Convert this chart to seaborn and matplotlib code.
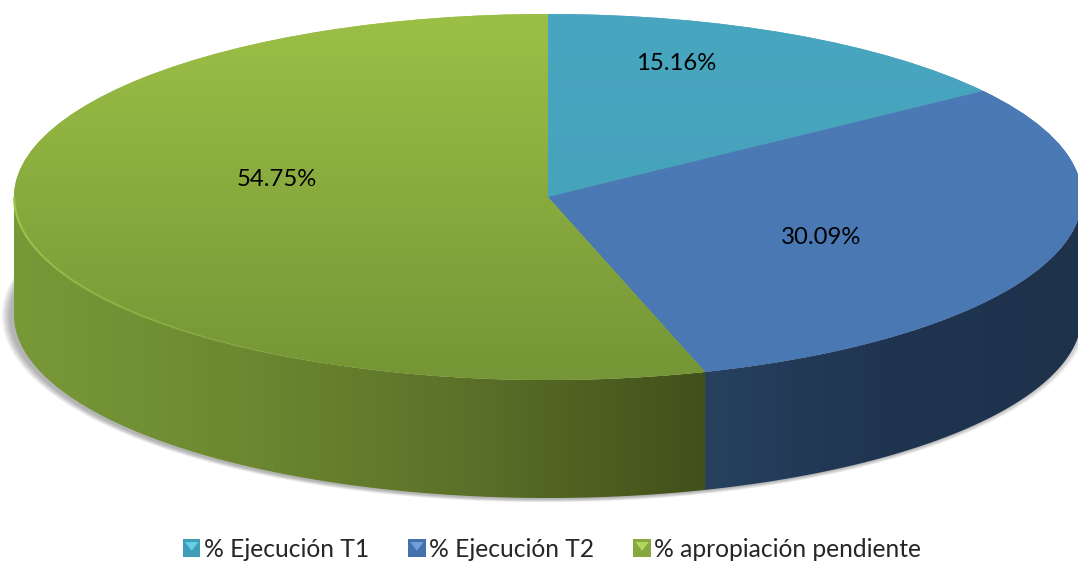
import numpy as np
import matplotlib
matplotlib.use("Agg")
import matplotlib.pyplot as plt
from matplotlib.legend_handler import HandlerBase
from matplotlib.patches import Ellipse, Patch, Polygon, Rectangle
import seaborn as sns

categories = ["% Ejecución T1", "% Ejecución T2", "% apropiación pendiente"]
shares = [15.16, 30.09, 54.75]

W, H, CX, CY, A, B, DEPTH = 1078, 561, 548, 197, 534, 183, 118
top_colors = [("#49A6C0", "#44A0B8"), ("#4A7AB6", "#4A78B2"), ("#9CC046", "#759536")]
wall_colors = {1: ["#27415F", "#1F344F", "#1E324C"], 2: ["#789938", "#6C8830", "#5A7029", "#42501A"]}
legend_colors = ["#3F9DB8", "#4272AE", "#86A83E"]
legend_light = ["#63CFE8", "#6FA0DC", "#B2D75E"]
label_pos = [(676, 63), (821, 238), (277, 179)]

sns.set_theme(style="white")
plt.rcParams["font.family"] = ["Lato", "DejaVu Sans"]

fig = plt.figure(figsize=(W / 100, H / 100), dpi=100)
ax = fig.add_axes([0, 0, 1, 1])
xlim = ((0 - CX) / A, (W - CX) / A)
ylim = ((CY - H) / B, CY / B)
d = DEPTH / B


def gradient(colors, horizontal, extent, clip, z):
    cmap = sns.blend_palette(colors, as_cmap=True)
    g = np.linspace(0, 1, 256)
    g = g[None, :] if horizontal else g[:, None]
    im = ax.imshow(g, cmap=cmap, extent=extent, origin="upper", aspect="auto", zorder=z,
                   interpolation="bilinear")
    im.set_clip_path(clip)


class BevelHandler(HandlerBase):
    def create_artists(self, legend, orig, xd, yd, width, height, fontsize, trans):
        light = orig.get_edgecolor()
        s = min(width, height)
        x0, y0 = -xd, -yd + (height - s) / 2
        base = Rectangle((x0, y0), s, s, fc=orig.get_facecolor(), ec="none", transform=trans)
        tri = Polygon([(x0 + 0.12 * s, y0 + 0.85 * s), (x0 + 0.88 * s, y0 + 0.85 * s), (x0 + 0.5 * s, y0 + 0.35 * s)],
                      closed=True, fc=light, ec="none", transform=trans)
        return [base, tri]


# soft shadow behind the body
for k in range(1, 10):
    ax.add_patch(Ellipse((-0.006, -d - 0.004), 2 + 2 * k * 1.0 / A, 2 + 2 * k * 0.4 / B,
                         fc="#404040", ec="none", alpha=0.05, zorder=1))

edges = np.cumsum([0] + shares) / sum(shares) * 360

# side wall
for i, seg in wall_colors.items():
    t0 = max(edges[i], 90)
    t1 = min(edges[i + 1], 270)
    t = np.radians(np.linspace(t0, t1, 200))
    xs, ys = np.sin(t), np.cos(t)
    poly = Polygon(np.r_[np.c_[xs, ys], np.c_[xs, ys - d][::-1]], closed=True, fc="none", ec="none",
                   transform=ax.transData)
    ax.add_patch(poly)
    gradient(seg, True, (xs.min(), xs.max(), -1 - d, 0), poly, 2)

# top face
wedges, _ = ax.pie(shares, startangle=90, counterclock=False, radius=1, center=(0, 0),
                   colors=[c[0] for c in top_colors], wedgeprops={"linewidth": 0, "zorder": 3},
                   frame=True)
for w, c in zip(wedges, top_colors):
    gradient(c, False, (-1, 1, -1, 1), w, 4)

# light rim on the front-left edge
t = np.radians(np.linspace(270, 205, 70))
for j in range(len(t) - 1):
    ax.plot(np.sin(t[j:j + 2]), np.cos(t[j:j + 2]), color="#A4CB4C", lw=1.6, zorder=5,
            alpha=0.9 * (1 - j / len(t)), solid_capstyle="butt")

for (px, py), v in zip(label_pos, shares):
    ax.text((px - CX) / A, (CY - py) / B, f"{v:.2f}%", ha="center", va="center",
            fontsize=17.2, color="black", zorder=6)

handles = [Patch(facecolor=c, edgecolor=l) for c, l in zip(legend_colors, legend_light)]
ax.legend(handles, categories, loc="lower center", bbox_to_anchor=(0.512, -0.039), ncol=3, frameon=False,
          fontsize=17.7, handlelength=0.72, handleheight=0.72, handletextpad=0.12, columnspacing=1.6,
          handler_map={Patch: BevelHandler()})

ax.set_aspect("auto")
ax.set_xlim(*xlim)
ax.set_ylim(*ylim)
ax.axis("off")
fig.savefig("out.png", dpi=100)
